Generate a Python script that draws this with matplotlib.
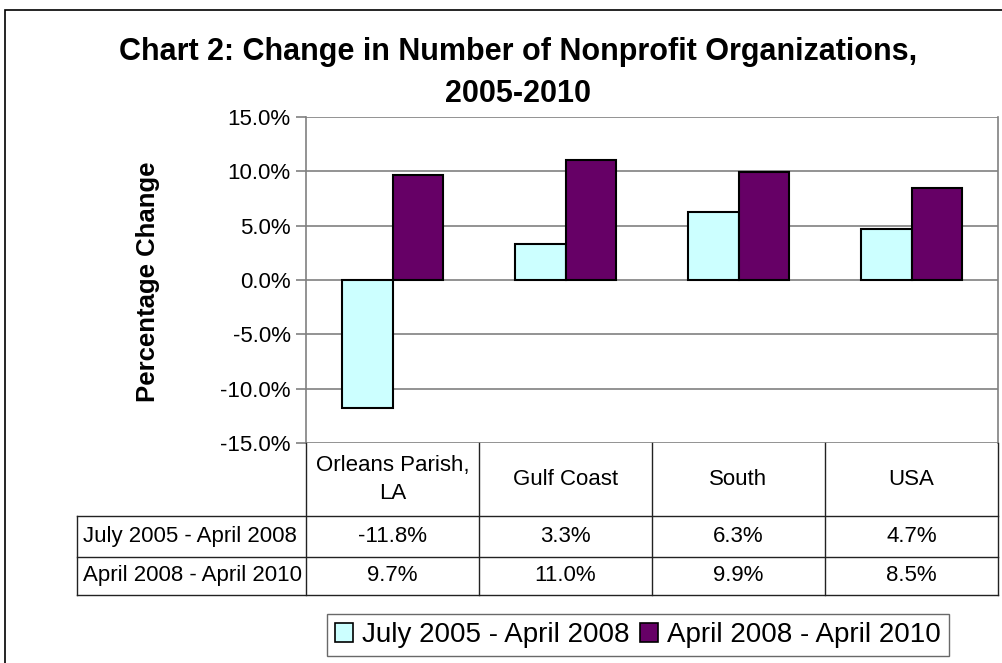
import numpy as np
import matplotlib.pyplot as plt
from matplotlib.patches import Rectangle, Patch

plt.rcParams["font.family"] = ["Liberation Sans", "DejaVu Sans"]

categories = ["Orleans Parish,\nLA", "Gulf Coast", "South", "USA"]
series_names = ["July 2005 - April 2008", "April 2008 - April 2010"]
change_2005_2008 = [-11.8, 3.3, 6.3, 4.7]
change_2008_2010 = [9.7, 11.0, 9.9, 8.5]
colors = ["#CCFFFF", "#660066"]

W, H = 1002, 663
fig = plt.figure(figsize=(W / 100, H / 100), dpi=100)


def fx(px):
    return px / W


def fy(py):
    return 1 - py / H


# outer chart border
fig.patches.append(Rectangle((fx(5), fy(700)), fx(1100), fy(10) - fy(700), transform=fig.transFigure,
                             fill=False, edgecolor="#000000", linewidth=1.2))

# plot area
ax = fig.add_axes([fx(306), fy(443), fx(998) - fx(306), fy(117) - fy(443)])
x = np.arange(len(categories))
bw = 0.29
series = [change_2005_2008, change_2008_2010]
for i, vals in enumerate(series):
    ax.bar(x + (i - 0.5) * bw, vals, bw, color=colors[i], edgecolor="black", linewidth=1.5, zorder=3)

ax.set_xlim(-0.5, len(categories) - 0.5)
ax.set_ylim(-15, 15)
yt = np.arange(-15, 15.1, 5)
ax.set_yticks(yt)
ax.set_yticklabels([f"{v:.1f}%" for v in yt], fontsize=16)
ax.set_xticks([])
ax.yaxis.grid(True, color="#808080", linewidth=1.2, zorder=0)
ax.tick_params(axis="y", length=7, width=1.2, color="#808080", pad=4)
for side in ["top", "bottom"]:
    ax.spines[side].set_visible(False)
for side in ["left", "right"]:
    ax.spines[side].set_color("#808080")
    ax.spines[side].set_linewidth(1.2)
fig.text(fx(148), fy(282), "Percentage Change", rotation=90, ha="center", va="center",
         fontsize=18.5, fontweight="bold")

# data table below the plot
row_y = [443, 516, 557, 595]
tab = fig.add_axes([fx(77), fy(row_y[-1]), fx(998) - fx(77), fy(443) - fy(row_y[-1])])
left_ext = (306 - 77) / 173.0
x0 = -0.5 - left_ext
x1 = len(categories) - 0.5
tab.set_xlim(x0, x1)
tab.set_ylim(row_y[-1], row_y[0])
tab.axis("off")
line_kw = dict(color="#222222", linewidth=1.0, clip_on=False)
for yy in row_y[1:]:
    tab.plot([x0, x1], [yy, yy], **line_kw)
tab.plot([x0, x0], [row_y[1], row_y[-1]], **line_kw)
for k in range(len(categories) + 1):
    tab.plot([k - 0.5, k - 0.5], [row_y[0], row_y[-1]], **line_kw)
for k, cat in enumerate(categories):
    tab.text(k, (row_y[0] + row_y[1]) / 2, cat, ha="center", va="center", fontsize=16, linespacing=1.4)
    for r, vals in enumerate(series):
        tab.text(k, (row_y[r + 1] + row_y[r + 2]) / 2, f"{vals[k]:.1f}%", ha="center", va="center", fontsize=16)
for r, name in enumerate(series_names):
    tab.text(x0 + 0.035, (row_y[r + 1] + row_y[r + 2]) / 2, name, ha="left", va="center", fontsize=16)

# title
fig.text(fx(518), fy(60), "Chart 2: Change in Number of Nonprofit Organizations,", ha="center", va="baseline",
         fontsize=22, fontweight="bold")
fig.text(fx(518), fy(102), "2005-2010", ha="center", va="baseline", fontsize=22, fontweight="bold")

# legend
handles = [Patch(facecolor=colors[i], edgecolor="black", linewidth=1.2) for i in range(2)]
leg = fig.legend(handles, series_names, loc="center", bbox_to_anchor=(fx(638), fy(635)), ncol=2,
                 fontsize=20, frameon=True, fancybox=False, handlelength=0.65, handleheight=0.65,
                 handletextpad=0.3, columnspacing=0.4, borderpad=0.3)
leg.get_frame().set_edgecolor("#444444")
leg.get_frame().set_linewidth(1.0)

fig.savefig("out.png", dpi=100)
